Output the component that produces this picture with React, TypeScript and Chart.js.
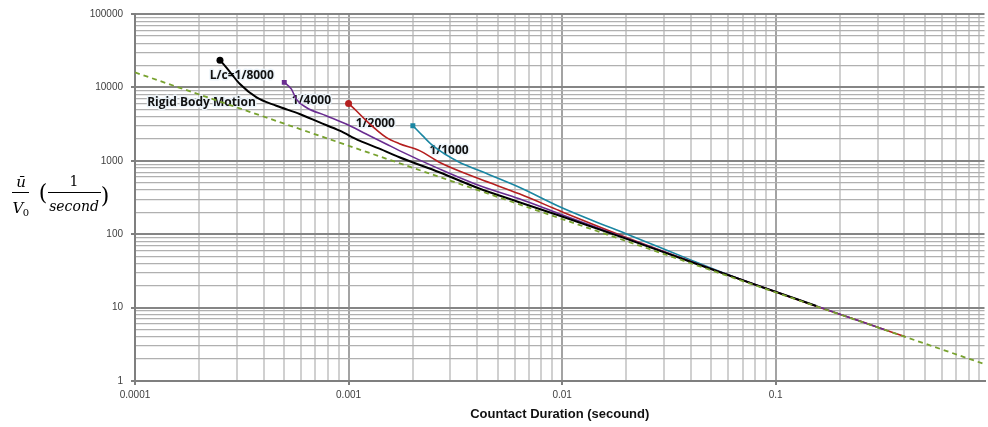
import React, { useEffect, useRef } from 'react';
import { Chart, registerables } from 'chart.js';
Chart.register(...registerables);

// ---- data ----
const xDecades = [0.0001, 0.001, 0.01, 0.1];
const yDecades = [1, 10, 100, 1000, 10000];
const xTickLabels = ['0.0001', '0.001', '0.01', '0.1'];
const yTickLabels = ['1', '10', '100', '1000', '10000', '100000'];
const xTitle = 'Countact Duration (secound)';

const rigidX = [0.0001, 0.95];
const rigidY = [16000, 1.7];

const l8000X = [0.00025, 0.000268, 0.00031, 0.000371, 0.000459, 0.00059, 0.000732, 0.000908, 0.001125, 0.001395, 0.00173, 0.00266, 0.00409, 0.0063, 0.00968, 0.0199, 0.0405, 0.0833, 0.155];
const l8000Y = [23500, 18600, 11100, 7290, 5620, 4340, 3335, 2570, 1882, 1465, 1116, 698, 419, 273, 180, 87, 41.5, 19.8, 10.5];

const l4000X = [0.0005, 0.00054, 0.000569, 0.000634, 0.000786, 0.000975, 0.00121, 0.0015, 0.00173, 0.00266, 0.00409, 0.0063, 0.00968, 0.02, 0.05, 0.1, 0.2, 0.327];
const l4000Y = [11700, 9480, 6930, 5330, 4110, 3170, 2320, 1698, 1377, 776, 460, 303, 190, 88, 33.5, 16.4, 8.1, 4.95];

const l2000X = [0.001, 0.001087, 0.00121, 0.0015, 0.00173, 0.00215, 0.00266, 0.00409, 0.0063, 0.00968, 0.012, 0.02, 0.04, 0.08, 0.15, 0.25, 0.405];
const l2000Y = [6040, 4810, 3520, 2085, 1713, 1377, 955, 568, 355, 210, 162, 90, 42.5, 20.5, 10.8, 6.5, 4.0];

const l1000X = [0.002, 0.00222, 0.00248, 0.0033, 0.00409, 0.0063, 0.00968, 0.01387, 0.0199, 0.0284, 0.0405, 0.06, 0.09];
const l1000Y = [3010, 2200, 1610, 955, 736, 437, 239, 154, 101.6, 66.8, 44, 28, 18];

const noteTexts = ['L/c=1/8000', '1/4000', '1/2000', '1/1000', 'Rigid Body Motion'];
const noteX = [0.000224, 0.000542, 0.00108, 0.00239, 0.000114];
const noteY = [14400, 6580, 3200, 1376, 6180];

const pts = (xs: number[], ys: number[]) => xs.map((x, i) => ({ x, y: ys[i] }));
const isPow10 = (v: number) => Math.abs(Math.log10(v) - Math.round(Math.log10(v))) < 1e-9;
const buildTicks = (decades: number[], extra: number[]) => {
  const out: { value: number; major: boolean }[] = [];
  decades.forEach((d) => {
    for (let m = 1; m <= 9; m++) out.push({ value: +(m * d).toPrecision(6), major: m === 1 });
  });
  extra.forEach((v) => out.push({ value: v, major: true }));
  return out;
};
const labelFor = (v: number, decs: number[], labels: string[], extra: number[]) => {
  if (!isPow10(v)) return '';
  const all = [...decs, ...extra];
  const i = all.findIndex((d) => Math.abs(Math.log10(d) - Math.log10(v)) < 1e-9);
  return i >= 0 ? labels[i] : '';
};

const annotPlugin = {
  id: 'annot',
  beforeDatasetsDraw(chart: any) {
    const { ctx, scales } = chart;
    const xs = scales.x, ys = scales.y;
    ctx.save();
    ctx.font = 'bold 12px "Open Sans"';
    ctx.textBaseline = 'middle';
    ctx.textAlign = 'left';
    noteTexts.forEach((t, i) => {
      const px = xs.getPixelForValue(noteX[i]);
      const py = ys.getPixelForValue(noteY[i]);
      ctx.lineWidth = 3;
      ctx.lineJoin = 'round';
      ctx.strokeStyle = 'rgba(235,243,250,0.95)';
      ctx.strokeText(t, px, py);
      ctx.fillStyle = '#111';
      ctx.fillText(t, px, py);
    });
    ctx.restore();
  },
  afterDraw(chart: any) {
    const { ctx } = chart;
    ctx.save();
    ctx.fillStyle = '#000';
    ctx.textAlign = 'center';
    ctx.textBaseline = 'middle';
    ctx.font = 'italic 15px "DejaVu Serif"';
    ctx.fillText('ū', 21, 183);
    ctx.fillRect(12, 192, 17, 1);
    ctx.fillText('V', 18, 209);
    ctx.font = '10px "DejaVu Serif"';
    ctx.fillText('0', 26, 213);
    ctx.font = '14px "DejaVu Serif"';
    ctx.fillText('1', 74, 182);
    ctx.fillRect(48, 192, 53, 1);
    ctx.font = 'italic 14px "DejaVu Serif"';
    ctx.fillText('second', 74, 207);
    ctx.font = '22px "DejaVu Serif"';
    ctx.fillText('(', 43, 194);
    ctx.fillText(')', 105, 197);
    ctx.restore();
  },
};

export default function App() {
  const ref = useRef<HTMLCanvasElement | null>(null);
  useEffect(() => {
    if (!ref.current) return;
    const markerR = (r: number) => (c: any) => (c.dataIndex === 0 ? r : 0);
    const line = (data: any, color: string, w: number, style: string) => ({
      data,
      borderColor: color,
      backgroundColor: color,
      borderWidth: w,
      showLine: true,
      pointRadius: markerR(3.5),
      pointHoverRadius: 0,
      pointStyle: style,
      pointBorderWidth: 0,
      cubicInterpolationMode: 'monotone',
    });
    const xExtra: number[] = [];
    const yExtra = [100000];
    const chart = new Chart(ref.current, {
      type: 'scatter',
      data: {
        datasets: [
          {
            data: pts(rigidX, rigidY),
            borderColor: '#78a22f',
            borderWidth: 1.8,
            borderDash: [5, 4],
            showLine: true,
            pointRadius: 0,
          } as any,
          line(pts(l8000X, l8000Y), '#000000', 2, 'circle'),
          line(pts(l4000X, l4000Y), '#6a2d91', 1.6, 'rect'),
          line(pts(l2000X, l2000Y), '#b51f1f', 1.6, 'circle'),
          line(pts(l1000X, l1000Y), '#1a86a2', 1.6, 'rect'),
        ],
      },
      options: {
        animation: false,
        responsive: false,
        events: [],
        layout: { padding: { left: 0, top: 13, right: 2, bottom: 0 } },
        plugins: { legend: { display: false }, tooltip: { enabled: false } },
        scales: {
          x: {
            type: 'logarithmic',
            min: 0.0001,
            max: 0.95,
            afterBuildTicks: (s: any) => { s.ticks = buildTicks(xDecades, xExtra); },
            afterFit: (s: any) => { s.height = 46; },
            ticks: {
              autoSkip: false,
              maxRotation: 0,
              minRotation: 0,
              padding: 4,
              color: '#404040',
              font: { family: '"Liberation Sans"', size: 10 },
              callback: (v: any) => labelFor(Number(v), xDecades, xTickLabels, xExtra),
            },
            grid: {
              color: (c: any) => (c.tick && isPow10(c.tick.value) ? '#a3a3a3' : '#d0d0d0'),
              lineWidth: 2,
              tickLength: 4,
              tickColor: (c: any) => (c.tick && isPow10(c.tick.value) ? '#7f7f7f' : 'rgba(0,0,0,0)'),
            },
            border: { display: true, color: '#7f7f7f', width: 2 },
            title: {
              display: true,
              text: xTitle,
              color: '#111',
              font: { family: '"Liberation Sans"', size: 13, weight: 'bold' },
              padding: { top: 0, bottom: 5 },
            },
          },
          y: {
            type: 'logarithmic',
            min: 1,
            max: 100000,
            afterBuildTicks: (s: any) => { s.ticks = buildTicks(yDecades, yExtra); },
            afterFit: (s: any) => { s.width = 135; },
            ticks: {
              autoSkip: false,
              padding: 8,
              color: '#404040',
              font: { family: '"Liberation Sans"', size: 10 },
              callback: (v: any) => labelFor(Number(v), yDecades, yTickLabels, yExtra),
            },
            grid: {
              color: (c: any) => (c.tick && isPow10(c.tick.value) ? '#858585' : '#b0b0b0'),
              lineWidth: (c: any) => (c.tick && isPow10(c.tick.value) ? 2 : 1.2),
              tickLength: 4,
              tickColor: (c: any) => (c.tick && isPow10(c.tick.value) ? '#7f7f7f' : 'rgba(0,0,0,0)'),
            },
            border: { display: true, color: '#7f7f7f', width: 2 },
          },
        },
      } as any,
      plugins: [annotPlugin],
    });
    return () => chart.destroy();
  }, []);
  return (
    <div style={{ position: 'fixed', left: 0, top: 0, width: 988, height: 427, background: '#fff' }}>
      <canvas ref={ref} width={988} height={427} />
    </div>
  );
}
